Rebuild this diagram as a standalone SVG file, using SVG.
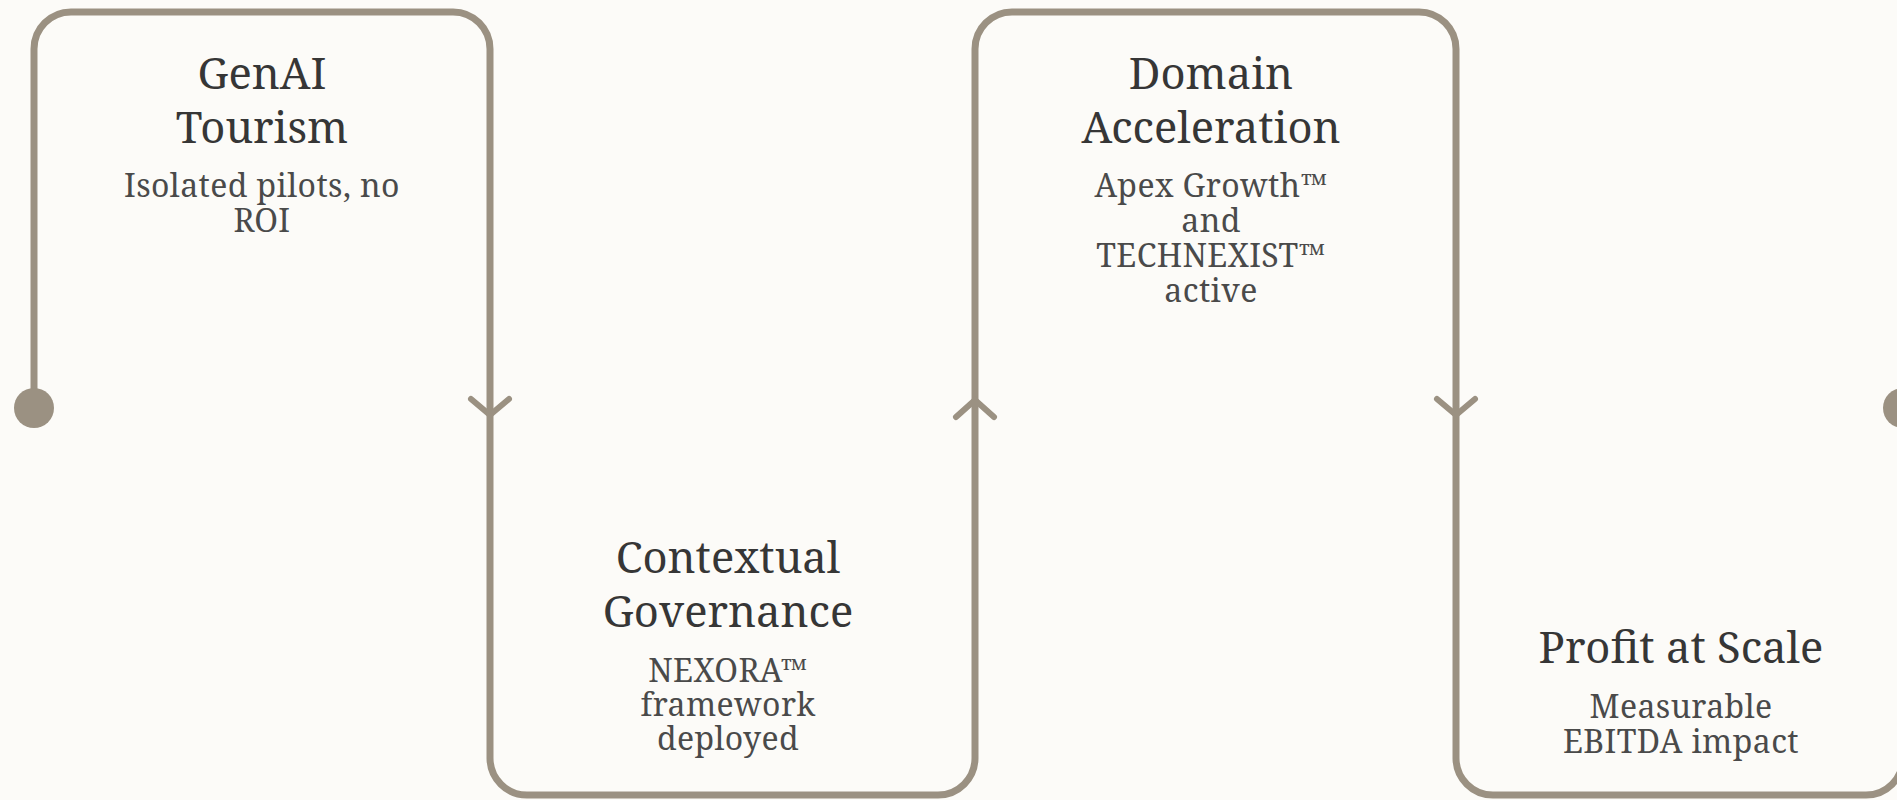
<svg xmlns="http://www.w3.org/2000/svg" width="1897" height="800" viewBox="0 0 1897 800">
<style>
.bg{fill:#fcfbf8}
.flow{fill:none;stroke:#9b9182;stroke-width:7;stroke-linecap:round;stroke-linejoin:round}
.chev{fill:none;stroke:#9b9182;stroke-width:6;stroke-linecap:round;stroke-linejoin:round}
.dot{fill:#9b9182}
.title{font-family:"Noto Serif","DejaVu Serif","Liberation Serif",serif;font-size:43.5px;fill:#363636;text-anchor:middle}
.body{font-family:"Noto Serif","DejaVu Serif","Liberation Serif",serif;font-size:32px;letter-spacing:0.4px;fill:#4a4a4a;text-anchor:middle}
</style>
<rect class="bg" x="0" y="0" width="1897" height="800"/>
<g id="connectors">
<path class="flow" d="M34,408 V49 A37,37 0 0 1 71,12 H453 A37,37 0 0 1 490,49 V758 A37,37 0 0 0 527,795 H938 A37,37 0 0 0 975,758 V49 A37,37 0 0 1 1012,12 H1419 A37,37 0 0 1 1456,49 V758 A37,37 0 0 0 1493,795 H1866 A37,37 0 0 0 1903,758 V408"/>
<circle class="dot" cx="34" cy="408" r="20"/>
<circle class="dot" cx="1903" cy="408" r="20"/>
<path class="chev" d="M471,399 L490,415 L509,399"/>
<path class="chev" d="M956,417 L975,400 L994,417"/>
<path class="chev" d="M1437,399 L1456,415 L1475,399"/>
</g>
<g id="node-genai-tourism">
<text class="title" x="262" y="89">GenAI</text>
<text class="title" x="262" y="143">Tourism</text>
<text class="body" x="262" y="197">Isolated pilots, no</text>
<text class="body" x="262" y="232">ROI</text>
</g>
<g id="node-contextual-governance">
<text class="title" x="728" y="573">Contextual</text>
<text class="title" x="728" y="627">Governance</text>
<text class="body" x="728" y="682">NEXORA™</text>
<text class="body" x="728" y="716">framework</text>
<text class="body" x="728" y="750">deployed</text>
</g>
<g id="node-domain-acceleration">
<text class="title" x="1211" y="89">Domain</text>
<text class="title" x="1211" y="143">Acceleration</text>
<text class="body" x="1211" y="197">Apex Growth™</text>
<text class="body" x="1211" y="232">and</text>
<text class="body" x="1211" y="267">TECHNEXIST™</text>
<text class="body" x="1211" y="302">active</text>
</g>
<g id="node-profit-at-scale">
<text class="title" x="1681" y="663">Profit at Scale</text>
<text class="body" x="1681" y="718">Measurable</text>
<text class="body" x="1681" y="753">EBITDA impact</text>
</g>
</svg>
